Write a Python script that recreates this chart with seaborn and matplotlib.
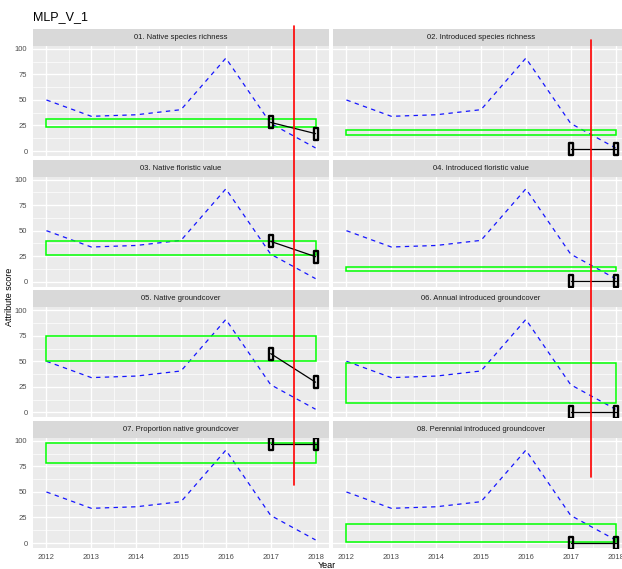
import matplotlib
matplotlib.use("Agg")
import matplotlib.pyplot as plt
import matplotlib.patches as mpatches
import matplotlib.path as mpath
import matplotlib.transforms as mtrans
from matplotlib.lines import Line2D
import seaborn as sns
import numpy as np

sns.set_theme(style="darkgrid")
plt.rcParams['font.family'] = ['Liberation Sans Narrow', 'Liberation Sans', 'DejaVu Sans']

# ---------------- data ----------------
title = "MLP_V_1"
panel_titles = [
    "01. Native species richness",
    "02. Introduced species richness",
    "03. Native floristic value",
    "04. Introduced floristic value",
    "05. Native groundcover",
    "06. Annual introduced groundcover",
    "07. Proportion native groundcover",
    "08. Perennial introduced groundcover",
]
years = [2012, 2013, 2014, 2015, 2016, 2017, 2018]
trend = [50, 34, 35.5, 40.5, 91, 27, 3]
range_low = [23.5, 16, 26, 10.5, 50, 9, 78, 1.3]
range_high = [31.5, 20.5, 40, 14.5, 75, 48, 98, 18.5]
obs_years = [2017, 2018]
obs_2017 = [28, 2, 39.5, 1, 57.5, 0.4, 97.5, 0.3]
obs_2018 = [17, 2, 24.5, 1, 29.5, 0.4, 97.5, 0.3]
yticks = [0, 25, 50, 75, 100]
xticks = years
red_x = [2017.51, 2017.45]          # data x of the red vertical lines (left / right column)
red_span_px = [(26, 485), (40, 477)]  # vertical extent in figure pixels

# ---------------- layout ----------------
W, H = 622, 569
fig = plt.figure(figsize=(W / 100, H / 100), dpi=100)
fig.patch.set_facecolor("white")


def frect(l, t, r, b):
    return [l / W, 1 - b / H, (r - l) / W, (b - t) / H]


cols = [(33, 329), (333, 629)]
row_tops = [46, 176.7, 307.3, 438]
ph = 110
strip_h = 17

rect_marker = mpath.Path(
    [(-0.17, -0.5), (0.17, -0.5), (0.17, 0.5), (-0.17, 0.5), (-0.17, -0.5)],
    [1, 2, 2, 2, 79],
)

axes = []
for i, name in enumerate(panel_titles):
    r, c = divmod(i, 2)
    l, rr = cols[c]
    t = row_tops[r]
    ax = fig.add_axes(frect(l, t, rr, t + ph))
    axes.append(ax)
    ax.set_facecolor("#EBEBEB")
    for s in ax.spines.values():
        s.set_visible(False)
    ax.set_xlim(2011.7, 2018.3)
    ax.set_ylim(-4.9, 102.9)
    ax.set_xticks(xticks)
    ax.set_yticks(yticks)
    ax.set_xticks([y + 0.5 for y in years[:-1]], minor=True)
    ax.set_yticks([12.5, 37.5, 62.5, 87.5], minor=True)
    ax.grid(True, which="major", color="white", linewidth=1.0)
    ax.grid(True, which="minor", color="white", linewidth=0.5)
    ax.set_axisbelow(True)
    ax.tick_params(which="minor", length=0)
    ax.tick_params(which="major", length=2.5, width=0.6, color="#333333",
                   labelsize=5.5, labelcolor="#4D4D4D", pad=1.5)
    if c != 0:
        ax.tick_params(axis="y", left=False, labelleft=False)
    if r != 3:
        ax.tick_params(axis="x", bottom=False, labelbottom=False)

    sns.lineplot(x=years, y=trend, ax=ax, color="#1515FF", linestyle="--",
                 linewidth=0.9, dashes=False)
    for ln in ax.lines:
        ln.set_dashes((3.5, 3.5))
    ax.add_patch(mpatches.Rectangle((years[0], range_low[i]), years[-1] - years[0],
                                    range_high[i] - range_low[i], fill=False,
                                    edgecolor="#00FF00", linewidth=1.1, zorder=3))
    sns.lineplot(x=obs_years, y=[obs_2017[i], obs_2018[i]], ax=ax, color="black",
                 linewidth=0.9, marker=rect_marker, markersize=9,
                 markerfacecolor="none", markeredgecolor="black",
                 markeredgewidth=1.7, zorder=4)
    ax.set_xlabel("")
    ax.set_ylabel("")

    sax = fig.add_axes(frect(l, t - strip_h, rr, t))
    sax.set_facecolor("#D9D9D9")
    sax.set_xticks([])
    sax.set_yticks([])
    for s in sax.spines.values():
        s.set_visible(False)
    sax.text(0.5, 0.5, name, ha="center", va="center", fontsize=5.5,
             color="#1A1A1A", transform=sax.transAxes)

# red vertical lines
for c, ax in enumerate([axes[0], axes[1]]):
    tr = mtrans.blended_transform_factory(ax.transData, fig.transFigure)
    y0, y1 = red_span_px[c]
    fig.add_artist(Line2D([red_x[c], red_x[c]], [1 - y0 / H, 1 - y1 / H],
                          transform=tr, color="red", linewidth=1.2, zorder=10))

fig.text(33 / W, 1 - 17 / H, title, ha="left", va="center", fontsize=9, color="black")
fig.text(327 / W, 1 - 565 / H, "Year", ha="center", va="center", fontsize=6.5, color="black")
fig.text(10 / W, 1 - 297 / H, "Attribute score", ha="center", va="center",
         rotation=90, fontsize=6.5, color="black")

fig.savefig("out.png", dpi=100, facecolor="white")
